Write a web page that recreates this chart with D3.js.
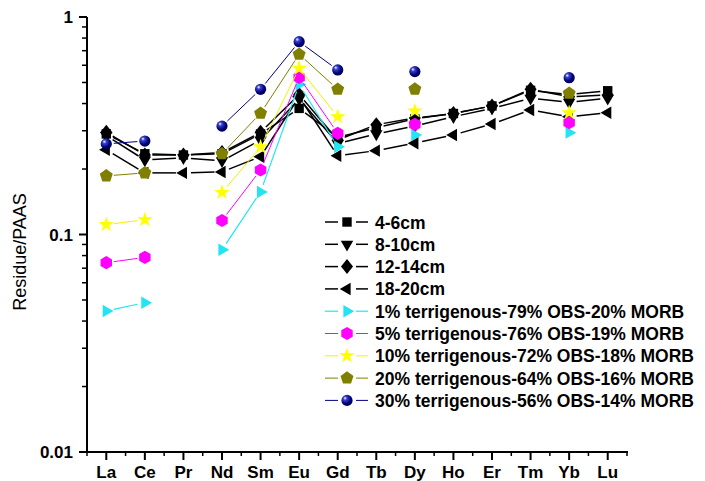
<!DOCTYPE html>
<html>
<head>
<style type="text/css">
body { margin: 0; background: #fff; }
text { font-family: Arial, "Liberation Sans", sans-serif; }
.tick-label { font-weight: bold; font-size: 17px; }
.legend-label { font-weight: bold; font-size: 17.5px; }
</style>
<script src="https://d3js.org/d3.v7.min.js"></script>
</head>
<body>
<script type="text/javascript">
var width = 705;
var height = 481;

// REE categories
var elements = ["La", "Ce", "Pr", "Nd", "Sm", "Eu", "Gd", "Tb", "Dy", "Ho", "Er", "Tm", "Yb", "Lu"];

// core residue samples
var s4_6   = [0.29, 0.235, 0.232, 0.235, 0.29, 0.38, 0.28, 0.31, 0.34, 0.36, 0.39, 0.46, 0.44, 0.458];
var s8_10  = [0.285, 0.22, 0.225, 0.218, 0.272, 0.42, 0.262, 0.29, 0.315, 0.348, 0.38, 0.423, 0.405, 0.423];
var s12_14 = [0.295, 0.232, 0.232, 0.238, 0.295, 0.44, 0.272, 0.32, 0.343, 0.36, 0.39, 0.465, 0.43, 0.438];
var s18_20 = [0.245, 0.192, 0.192, 0.194, 0.228, 0.43, 0.23, 0.243, 0.263, 0.287, 0.322, 0.374, 0.348, 0.363];

// mixing models (null = not calculated)
var mix1  = [0.0445, 0.0486, null, 0.085, 0.157, 0.49, 0.253, null, 0.287, null, null, null, 0.294, null];
var mix5  = [0.0742, 0.0785, null, 0.116, 0.198, 0.528, 0.292, null, 0.321, null, null, null, 0.327, null];
var mix10 = [0.111, 0.117, null, 0.156, 0.253, 0.581, 0.348, null, 0.37, null, null, null, 0.363, null];
var mix20 = [0.186, 0.192, null, 0.235, 0.361, 0.674, 0.465, null, 0.466, null, null, null, 0.446, null];
var mix30 = [0.261, 0.269, null, 0.315, 0.465, 0.77, 0.571, null, 0.561, null, null, null, 0.526, null];

var yTicks = [0.01, 0.1, 1];
var yTickLabels = ["0.01", "0.1", "1"];

// marker shapes
function poly(n, r, rot) {
	var pts = [];
	for (var i = 0; i < n; i++) {
		var a = rot + i * 2 * Math.PI / n;
		pts.push([r * Math.cos(a), r * Math.sin(a)]);
	}
	return "M" + pts.map(function(p){ return p[0].toFixed(2) + "," + p[1].toFixed(2); }).join("L") + "Z";
}
var shapes = {
	square:   "M-4.7,-4.7L4.7,-4.7L4.7,4.7L-4.7,4.7Z",
	tridown:  poly(3, 7.2, Math.PI / 2),
	diamond:  "M0,-7.5L6,0L0,7.5L-6,0Z",
	trileft:  poly(3, 7.2, Math.PI),
	triright: poly(3, 7.2, 0),
	hexagon:  poly(6, 6.6, -Math.PI / 2),
	star:     d3.symbol().type(d3.symbolStar).size(75)(),
	pentagon: poly(5, 6.8, -Math.PI / 2),
	ball:     null
};

var series = [
	{ name: "4-6cm", values: s4_6, color: "#000", line: "#000", shape: "square", lw: 1.5 },
	{ name: "8-10cm", values: s8_10, color: "#000", line: "#000", shape: "tridown", lw: 1.5 },
	{ name: "12-14cm", values: s12_14, color: "#000", line: "#000", shape: "diamond", lw: 1.5 },
	{ name: "18-20cm", values: s18_20, color: "#000", line: "#000", shape: "trileft", lw: 1.5 },
	{ name: "1% terrigenous-79% OBS-20% MORB", values: mix1, color: "#22e4f2", line: "#22e4f2", shape: "triright", lw: 1.2 },
	{ name: "5% terrigenous-76% OBS-19% MORB", values: mix5, color: "#ff00ff", line: "#ff00ff", shape: "hexagon", lw: 1 },
	{ name: "10% terrigenous-72% OBS-18% MORB", values: mix10, color: "#ffff00", line: "#f2f200", shape: "star", lw: 1 },
	{ name: "20% terrigenous-64% OBS-16% MORB", values: mix20, color: "#808000", line: "#808000", shape: "pentagon", lw: 1 },
	{ name: "30% terrigenous-56% OBS-14% MORB", values: mix30, color: "#000080", line: "#000080", shape: "ball", lw: 1 }
];

var svg = d3.select("body").append("svg").attr("width", width).attr("height", height);

var defs = svg.append("defs");
var grad = defs.append("radialGradient").attr("id", "ballgrad")
	.attr("cx", "0.38").attr("cy", "0.35").attr("r", "0.65").attr("fx", "0.32").attr("fy", "0.3");
grad.append("stop").attr("offset", "0").attr("stop-color", "#ffffff");
grad.append("stop").attr("offset", "0.25").attr("stop-color", "#3a44c8");
grad.append("stop").attr("offset", "0.7").attr("stop-color", "#000080");
grad.append("stop").attr("offset", "1").attr("stop-color", "#00004a");

var x = d3.scaleLinear().domain([-0.5, 13.5]).range([87, 627]);
var y = d3.scaleLog().domain([0.01, 1]).range([452, 17]);

function drawMarker(g, s, px, py) {
	if (s.shape === "ball") {
		g.append("circle").attr("cx", px).attr("cy", py).attr("r", 5.6).attr("fill", "url(#ballgrad)");
	} else {
		g.append("path").attr("d", shapes[s.shape])
			.attr("transform", "translate(" + px + "," + py + ")")
			.attr("fill", s.color);
	}
}

// series lines (gapped near markers) and markers
var gap = 7.5;
var seg = d3.line();
series.forEach(function(s) {
	var g = svg.append("g");
	var pts = [];
	s.values.forEach(function(v, i) { pts.push(v == null ? null : [x(i), y(v)]); });
	for (var i = 0; i < pts.length - 1; i++) {
		var a = pts[i], b = pts[i + 1];
		if (!a || !b) continue;
		var dx = b[0] - a[0], dy = b[1] - a[1];
		var len = Math.sqrt(dx * dx + dy * dy);
		if (len <= 2 * gap) continue;
		var ux = dx / len, uy = dy / len;
		g.append("path")
			.attr("d", seg([[a[0] + ux * gap, a[1] + uy * gap], [b[0] - ux * gap, b[1] - uy * gap]]))
			.attr("stroke", s.line).attr("stroke-width", s.lw).attr("fill", "none");
	}
	pts.forEach(function(p) { if (p) drawMarker(g, s, p[0], p[1]); });
});

// y axis
var yMinor = [];
[0.01, 0.1].forEach(function(d) { for (var k = 2; k <= 9; k++) yMinor.push(d * k); });
var yAxis = svg.append("g").attr("transform", "translate(87,0)");
yAxis.append("path").attr("d", "M0," + y(1) + "V" + y(0.01)).attr("stroke", "#000").attr("stroke-width", 2);
yAxis.selectAll(".ymaj").data(yTicks).enter().append("line")
	.attr("x1", -8).attr("x2", 0).attr("y1", function(d){ return y(d); }).attr("y2", function(d){ return y(d); })
	.attr("stroke", "#000").attr("stroke-width", 2);
yAxis.selectAll(".ymin").data(yMinor).enter().append("line")
	.attr("x1", -5).attr("x2", 0).attr("y1", function(d){ return y(d); }).attr("y2", function(d){ return y(d); })
	.attr("stroke", "#000").attr("stroke-width", 1.5);
yAxis.selectAll(".ylab").data(yTicks).enter().append("text")
	.attr("class", "tick-label")
	.attr("x", -14).attr("y", function(d){ return y(d) + 6; })
	.attr("text-anchor", "end")
	.text(function(d, i){ return yTickLabels[i]; });

svg.append("text")
	.attr("transform", "translate(26,252) rotate(-90)")
	.attr("text-anchor", "middle")
	.attr("font-size", "18px")
	.text("Residue/PAAS");

// x axis
var xAxis = svg.append("g").attr("transform", "translate(0,452)");
xAxis.append("path").attr("d", "M86," + 0 + "H628").attr("stroke", "#000").attr("stroke-width", 2);
xAxis.selectAll(".xmaj").data(elements).enter().append("line")
	.attr("x1", function(d, i){ return x(i); }).attr("x2", function(d, i){ return x(i); })
	.attr("y1", 0).attr("y2", 8).attr("stroke", "#000").attr("stroke-width", 2);
xAxis.selectAll(".xmin").data(d3.range(-0.5, 14, 1)).enter().append("line")
	.attr("x1", function(d){ return x(d); }).attr("x2", function(d){ return x(d); })
	.attr("y1", 0).attr("y2", 4).attr("stroke", "#000").attr("stroke-width", 1.5);
xAxis.selectAll(".xlab").data(elements).enter().append("text")
	.attr("class", "tick-label")
	.attr("x", function(d, i){ return x(i); }).attr("y", 25.5)
	.attr("text-anchor", "middle")
	.text(function(d){ return d; });

// legend
var legend = svg.append("g").attr("transform", "translate(0,222)");
series.forEach(function(s, i) {
	var g = legend.append("g").attr("transform", "translate(0," + (i * 22.3) + ")");
	g.append("line").attr("x1", 325).attr("x2", 338).attr("y1", 0).attr("y2", 0).attr("stroke", s.line).attr("stroke-width", s.lw);
	g.append("line").attr("x1", 356).attr("x2", 368).attr("y1", 0).attr("y2", 0).attr("stroke", s.line).attr("stroke-width", s.lw);
	drawMarker(g, s, 347, 0);
	g.append("text").attr("class", "legend-label").attr("x", 375).attr("y", 6.5).text(s.name);
});
</script>
</body>
</html>
